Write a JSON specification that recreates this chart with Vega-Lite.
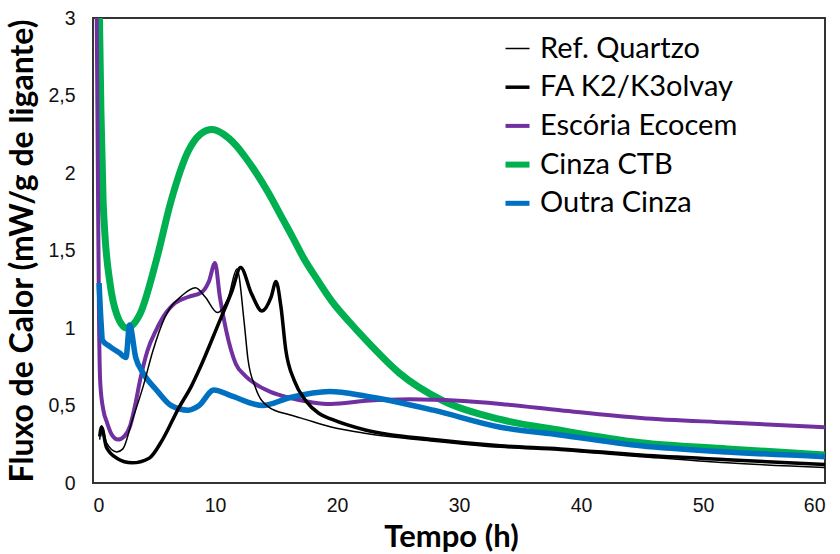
{
  "$schema": "https://vega.github.io/schema/vega-lite/v6.json",
  "width": 732,
  "height": 465,
  "autosize": {"type": "none"},
  "padding": {"left": 93, "top": 18, "right": 15, "bottom": 71},
  "background": "white",
  "config": {
    "view": {"stroke": "#333333", "strokeWidth": 2},
    "axis": {
      "grid": false, "domain": false, "ticks": false,
      "labelFont": "Liberation Sans", "labelFontSize": 19.5, "labelColor": "#111111",
      "titleFont": "Lato", "titleFontWeight": "bold", "titleFontSize": 31, "titleColor": "#000000"
    },
    "legend": {
      "labelFont": "Lato", "labelFontSize": 29, "labelColor": "#000000", "labelLimit": 400
    }
  },
  "data": {
    "values": [
      {"serie": "Cinza CTB", "t": 0.45, "q": 3.4},
      {"serie": "Cinza CTB", "t": 0.65, "q": 2.4},
      {"serie": "Cinza CTB", "t": 0.83, "q": 1.82},
      {"serie": "Cinza CTB", "t": 0.97, "q": 1.61},
      {"serie": "Cinza CTB", "t": 1.39, "q": 1.29},
      {"serie": "Cinza CTB", "t": 1.94, "q": 1.09},
      {"serie": "Cinza CTB", "t": 2.75, "q": 1.0},
      {"serie": "Cinza CTB", "t": 3.85, "q": 1.09},
      {"serie": "Cinza CTB", "t": 5.2, "q": 1.44},
      {"serie": "Cinza CTB", "t": 6.4, "q": 1.82},
      {"serie": "Cinza CTB", "t": 7.8, "q": 2.14},
      {"serie": "Cinza CTB", "t": 8.8, "q": 2.25},
      {"serie": "Cinza CTB", "t": 9.75, "q": 2.28},
      {"serie": "Cinza CTB", "t": 10.7, "q": 2.25},
      {"serie": "Cinza CTB", "t": 11.7, "q": 2.18},
      {"serie": "Cinza CTB", "t": 12.5, "q": 2.1},
      {"serie": "Cinza CTB", "t": 13.3, "q": 2.01},
      {"serie": "Cinza CTB", "t": 14.4, "q": 1.87},
      {"serie": "Cinza CTB", "t": 15.5, "q": 1.71},
      {"serie": "Cinza CTB", "t": 16.4, "q": 1.58},
      {"serie": "Cinza CTB", "t": 17.2, "q": 1.46},
      {"serie": "Cinza CTB", "t": 18.4, "q": 1.31},
      {"serie": "Cinza CTB", "t": 19.6, "q": 1.17},
      {"serie": "Cinza CTB", "t": 21, "q": 1.04},
      {"serie": "Cinza CTB", "t": 22.4, "q": 0.92},
      {"serie": "Cinza CTB", "t": 25.1, "q": 0.71},
      {"serie": "Cinza CTB", "t": 28.7, "q": 0.53},
      {"serie": "Cinza CTB", "t": 33.4, "q": 0.41},
      {"serie": "Cinza CTB", "t": 38.3, "q": 0.34},
      {"serie": "Cinza CTB", "t": 44.9, "q": 0.26},
      {"serie": "Cinza CTB", "t": 52, "q": 0.22},
      {"serie": "Cinza CTB", "t": 60, "q": 0.18},

      {"serie": "Escória Ecocem", "t": 0.25, "q": 3.6},
      {"serie": "Escória Ecocem", "t": 0.4, "q": 2.0},
      {"serie": "Escória Ecocem", "t": 0.5, "q": 1.0},
      {"serie": "Escória Ecocem", "t": 0.6, "q": 0.64},
      {"serie": "Escória Ecocem", "t": 0.85, "q": 0.47},
      {"serie": "Escória Ecocem", "t": 1.15, "q": 0.39},
      {"serie": "Escória Ecocem", "t": 1.55, "q": 0.31},
      {"serie": "Escória Ecocem", "t": 2.05, "q": 0.28},
      {"serie": "Escória Ecocem", "t": 2.55, "q": 0.3},
      {"serie": "Escória Ecocem", "t": 3.05, "q": 0.37},
      {"serie": "Escória Ecocem", "t": 3.45, "q": 0.5},
      {"serie": "Escória Ecocem", "t": 3.85, "q": 0.66},
      {"serie": "Escória Ecocem", "t": 4.45, "q": 0.85},
      {"serie": "Escória Ecocem", "t": 5.2, "q": 0.99},
      {"serie": "Escória Ecocem", "t": 6.0, "q": 1.1},
      {"serie": "Escória Ecocem", "t": 6.7, "q": 1.16},
      {"serie": "Escória Ecocem", "t": 7.8, "q": 1.2},
      {"serie": "Escória Ecocem", "t": 8.9, "q": 1.23},
      {"serie": "Escória Ecocem", "t": 9.5, "q": 1.3},
      {"serie": "Escória Ecocem", "t": 10.0, "q": 1.42},
      {"serie": "Escória Ecocem", "t": 10.4, "q": 1.2},
      {"serie": "Escória Ecocem", "t": 10.9, "q": 0.99},
      {"serie": "Escória Ecocem", "t": 11.7, "q": 0.77},
      {"serie": "Escória Ecocem", "t": 12.5, "q": 0.69},
      {"serie": "Escória Ecocem", "t": 13.3, "q": 0.64},
      {"serie": "Escória Ecocem", "t": 14.5, "q": 0.59},
      {"serie": "Escória Ecocem", "t": 16.1, "q": 0.55},
      {"serie": "Escória Ecocem", "t": 18, "q": 0.52},
      {"serie": "Escória Ecocem", "t": 19.5, "q": 0.51},
      {"serie": "Escória Ecocem", "t": 22.4, "q": 0.53},
      {"serie": "Escória Ecocem", "t": 26, "q": 0.54},
      {"serie": "Escória Ecocem", "t": 30, "q": 0.53},
      {"serie": "Escória Ecocem", "t": 33.4, "q": 0.51},
      {"serie": "Escória Ecocem", "t": 38.3, "q": 0.47},
      {"serie": "Escória Ecocem", "t": 44.9, "q": 0.42},
      {"serie": "Escória Ecocem", "t": 52, "q": 0.39},
      {"serie": "Escória Ecocem", "t": 60, "q": 0.36},

      {"serie": "Outra Cinza", "t": 0.5, "q": 1.29},
      {"serie": "Outra Cinza", "t": 0.65, "q": 1.05},
      {"serie": "Outra Cinza", "t": 0.78, "q": 0.92},
      {"serie": "Outra Cinza", "t": 1.39, "q": 0.88},
      {"serie": "Outra Cinza", "t": 2.15, "q": 0.84},
      {"serie": "Outra Cinza", "t": 2.7, "q": 0.81},
      {"serie": "Outra Cinza", "t": 3.0, "q": 1.02},
      {"serie": "Outra Cinza", "t": 3.5, "q": 0.81},
      {"serie": "Outra Cinza", "t": 4.1, "q": 0.71},
      {"serie": "Outra Cinza", "t": 5.2, "q": 0.6},
      {"serie": "Outra Cinza", "t": 6.4, "q": 0.5},
      {"serie": "Outra Cinza", "t": 7.8, "q": 0.47},
      {"serie": "Outra Cinza", "t": 8.7, "q": 0.5},
      {"serie": "Outra Cinza", "t": 9.9, "q": 0.6},
      {"serie": "Outra Cinza", "t": 11.4, "q": 0.56},
      {"serie": "Outra Cinza", "t": 13.9, "q": 0.5},
      {"serie": "Outra Cinza", "t": 16.1, "q": 0.55},
      {"serie": "Outra Cinza", "t": 19.4, "q": 0.59},
      {"serie": "Outra Cinza", "t": 22.4, "q": 0.56},
      {"serie": "Outra Cinza", "t": 27.9, "q": 0.47},
      {"serie": "Outra Cinza", "t": 33.4, "q": 0.36},
      {"serie": "Outra Cinza", "t": 38.3, "q": 0.31},
      {"serie": "Outra Cinza", "t": 44.9, "q": 0.24},
      {"serie": "Outra Cinza", "t": 52, "q": 0.2},
      {"serie": "Outra Cinza", "t": 60, "q": 0.17},

      {"serie": "FA K2/K3olvay", "t": 0.55, "q": 0.3},
      {"serie": "FA K2/K3olvay", "t": 0.7, "q": 0.36},
      {"serie": "FA K2/K3olvay", "t": 1.1, "q": 0.23},
      {"serie": "FA K2/K3olvay", "t": 1.95, "q": 0.16},
      {"serie": "FA K2/K3olvay", "t": 3.2, "q": 0.13},
      {"serie": "FA K2/K3olvay", "t": 4.6, "q": 0.16},
      {"serie": "FA K2/K3olvay", "t": 5.7, "q": 0.28},
      {"serie": "FA K2/K3olvay", "t": 7.0, "q": 0.48},
      {"serie": "FA K2/K3olvay", "t": 8.1, "q": 0.63},
      {"serie": "FA K2/K3olvay", "t": 8.7, "q": 0.73},
      {"serie": "FA K2/K3olvay", "t": 10.3, "q": 1.03},
      {"serie": "FA K2/K3olvay", "t": 11.4, "q": 1.24},
      {"serie": "FA K2/K3olvay", "t": 12.1, "q": 1.39},
      {"serie": "FA K2/K3olvay", "t": 13.0, "q": 1.22},
      {"serie": "FA K2/K3olvay", "t": 13.85, "q": 1.11},
      {"serie": "FA K2/K3olvay", "t": 14.6, "q": 1.2},
      {"serie": "FA K2/K3olvay", "t": 15.0, "q": 1.3},
      {"serie": "FA K2/K3olvay", "t": 15.4, "q": 1.14},
      {"serie": "FA K2/K3olvay", "t": 15.8, "q": 0.86},
      {"serie": "FA K2/K3olvay", "t": 16.5, "q": 0.66},
      {"serie": "FA K2/K3olvay", "t": 17.45, "q": 0.53},
      {"serie": "FA K2/K3olvay", "t": 18.5, "q": 0.45},
      {"serie": "FA K2/K3olvay", "t": 19.6, "q": 0.41},
      {"serie": "FA K2/K3olvay", "t": 22.4, "q": 0.34},
      {"serie": "FA K2/K3olvay", "t": 27.9, "q": 0.28},
      {"serie": "FA K2/K3olvay", "t": 33.4, "q": 0.24},
      {"serie": "FA K2/K3olvay", "t": 38.3, "q": 0.22},
      {"serie": "FA K2/K3olvay", "t": 44.9, "q": 0.18},
      {"serie": "FA K2/K3olvay", "t": 52, "q": 0.15},
      {"serie": "FA K2/K3olvay", "t": 60, "q": 0.12},

      {"serie": "Ref. Quartzo", "t": 0.55, "q": 0.28},
      {"serie": "Ref. Quartzo", "t": 0.7, "q": 0.37},
      {"serie": "Ref. Quartzo", "t": 1.1, "q": 0.26},
      {"serie": "Ref. Quartzo", "t": 1.95, "q": 0.2},
      {"serie": "Ref. Quartzo", "t": 2.45, "q": 0.22},
      {"serie": "Ref. Quartzo", "t": 3.2, "q": 0.4},
      {"serie": "Ref. Quartzo", "t": 4.1, "q": 0.62},
      {"serie": "Ref. Quartzo", "t": 4.9, "q": 0.85},
      {"serie": "Ref. Quartzo", "t": 5.9, "q": 1.07},
      {"serie": "Ref. Quartzo", "t": 7.3, "q": 1.21},
      {"serie": "Ref. Quartzo", "t": 8.4, "q": 1.26},
      {"serie": "Ref. Quartzo", "t": 9.2, "q": 1.2},
      {"serie": "Ref. Quartzo", "t": 10.2, "q": 1.1},
      {"serie": "Ref. Quartzo", "t": 11.1, "q": 1.2},
      {"serie": "Ref. Quartzo", "t": 11.8, "q": 1.38},
      {"serie": "Ref. Quartzo", "t": 12.4, "q": 1.03},
      {"serie": "Ref. Quartzo", "t": 12.7, "q": 0.8},
      {"serie": "Ref. Quartzo", "t": 13.3, "q": 0.62},
      {"serie": "Ref. Quartzo", "t": 14.4, "q": 0.49},
      {"serie": "Ref. Quartzo", "t": 16.1, "q": 0.44},
      {"serie": "Ref. Quartzo", "t": 17, "q": 0.42},
      {"serie": "Ref. Quartzo", "t": 19.6, "q": 0.36},
      {"serie": "Ref. Quartzo", "t": 22.4, "q": 0.32},
      {"serie": "Ref. Quartzo", "t": 27.9, "q": 0.27},
      {"serie": "Ref. Quartzo", "t": 33.4, "q": 0.23},
      {"serie": "Ref. Quartzo", "t": 38.3, "q": 0.21},
      {"serie": "Ref. Quartzo", "t": 44.9, "q": 0.17},
      {"serie": "Ref. Quartzo", "t": 52, "q": 0.13},
      {"serie": "Ref. Quartzo", "t": 60, "q": 0.1}
    ]
  },
  "mark": {"type": "line", "interpolate": "monotone", "clip": true},
  "encoding": {
    "x": {
      "field": "t", "type": "quantitative",
      "scale": {"domain": [0, 60], "nice": false},
      "axis": {"values": [0, 10, 20, 30, 40, 50, 60], "title": "Tempo (h)", "labelPadding": 13, "titlePadding": 8, "titleX": 358}
    },
    "y": {
      "field": "q", "type": "quantitative",
      "scale": {"domain": [0, 3], "nice": false},
      "axis": {"values": [0, 0.5, 1, 1.5, 2, 2.5, 3], "labelExpr": "replace(format(datum.value, '~g'), '.', ',')", "title": "Fluxo de Calor (mW/g de ligante)", "titleFontSize": 32, "labelPadding": 18, "titlePadding": 8}
    },
    "color": {
      "field": "serie", "type": "nominal",
      "scale": {
        "domain": ["Ref. Quartzo", "FA K2/K3olvay", "Escória Ecocem", "Cinza CTB", "Outra Cinza"],
        "range": ["#000000", "#000000", "#7030A0", "#00B050", "#0070C0"]
      },
      "legend": {
        "orient": "none", "legendX": 410, "legendY": 16, "title": null,
        "symbolType": "stroke", "symbolSize": 576, "rowPadding": 8.7, "labelOffset": 8, "padding": 0,
        "encode": {
          "symbols": {
            "update": {
              "strokeWidth": {"signal": "datum.value === 'Ref. Quartzo' ? 1.5 : datum.value === 'FA K2/K3olvay' ? 3.5 : datum.value === 'Escória Ecocem' ? 4 : datum.value === 'Cinza CTB' ? 6 : 5"}
            }
          }
        }
      }
    },
    "strokeWidth": {
      "condition": [
        {"test": "datum.serie === 'Ref. Quartzo'", "value": 1.5},
        {"test": "datum.serie === 'FA K2/K3olvay'", "value": 3.5},
        {"test": "datum.serie === 'Escória Ecocem'", "value": 4},
        {"test": "datum.serie === 'Cinza CTB'", "value": 7}
      ],
      "value": 5.5
    }
  }
}
